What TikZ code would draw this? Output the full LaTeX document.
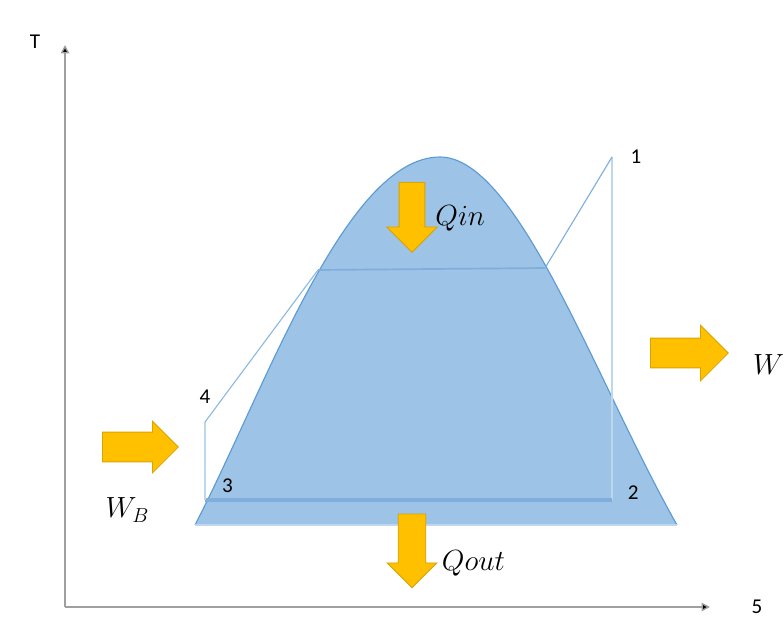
\documentclass[tikz,border=0pt]{standalone}
\usepackage{fontspec}
\newfontfamily\labelfont{Carlito}
\usetikzlibrary{shapes.arrows, arrows.meta, positioning}
\definecolor{domeBlue}{HTML}{9DC3E6}
\definecolor{domeEdge}{HTML}{5B9BD5}
\definecolor{cycleLine}{HTML}{7FAEDD}
\definecolor{paleLine}{HTML}{BDD7EE}
\definecolor{heatGold}{HTML}{FFC000}
\definecolor{heatEdge}{HTML}{D9A300}

\begin{document}
\begin{tikzpicture}[x=0.025cm, y=-0.025cm,
  axis/.style={draw=gray!75, line width=1pt, -{Triangle[length=6pt, width=6pt, fill=black]}},
  ptlabel/.style={font=\labelfont\fontsize{15}{15}\selectfont, inner sep=0pt},
  qlabel/.style={font=\fontsize{21}{21}\selectfont, inner sep=0pt},
  blockarrow/.style={single arrow, fill=heatGold, draw=heatEdge, line width=0.6pt,
    single arrow tip angle=90}]
  \useasboundingbox (0,0) rectangle (784,627);
  \coordinate (origin) at (65,607);
  \coordinate (ttip) at (65,45);
  \coordinate (stip) at (710,607);
  \draw[axis] (origin) -- (ttip);
  \draw[axis] (origin) -- (stip);
  \node[ptlabel] (tlab) at (35,42) {T};
  \node[ptlabel] (slab) at (757,607) {5};
  \fill[domeBlue] (195,525) .. controls (265,390) and (345,157) .. (440,157)
    .. controls (518,157) and (596,382) .. (677,525) -- cycle;
  \draw[domeEdge, line width=0.8pt] (195,525) .. controls (265,390) and (345,157) .. (440,157)
    .. controls (518,157) and (596,382) .. (677,525);
  \draw[paleLine, line width=1pt] (195,525) -- (677,525);
  \coordinate (p1) at (612,157);
  \coordinate (p2) at (612,500);
  \coordinate (p3) at (205,500);
  \coordinate (p4) at (205,422);
  \coordinate (satl) at (318,270);
  \coordinate (satr) at (545,268);
  \draw[cycleLine, line width=1.2pt] (satl) -- (satr);
  \draw[paleLine, line width=2pt] (p1) -- (p2);
  \draw[cycleLine, line width=3pt] (p2) -- (p3);
  \draw[paleLine, line width=1.2pt] (p3) -- (p4);
  \draw[domeEdge!70, line width=0.8pt] (p4) -- (satl);
  \draw[domeEdge!80, line width=0.8pt] (satr) -- (p1);
  \node[ptlabel, right=13pt of p1] (l1) {1};
  \node[ptlabel, right=11pt of p2, yshift=5pt] (l2) {2};
  \node[ptlabel, right=12pt of p3, yshift=10pt] (l3) {3};
  \node[ptlabel, above=13pt of p4] (l4) {4};
  \node[blockarrow, shape border rotate=270, inner sep=8.85pt,
    single arrow head extend=8.9pt, minimum height=49.6pt] (qinarrow) at (412,211) {};
  \node[blockarrow, shape border rotate=270, inner sep=9.5pt,
    single arrow head extend=7.8pt, minimum height=52.4pt] (qoutarrow) at (412,544) {};
  \node[blockarrow, inner sep=10.3pt, single arrow head extend=9.2pt,
    minimum height=55.3pt] (warrow) at (682,353) {};
  \node[blockarrow, inner sep=10.3pt, single arrow head extend=7.8pt,
    minimum height=53.9pt] (wbarrow) at (133,447) {};
  \node[qlabel, right=7pt of qinarrow, yshift=-5pt] (qin) {$Qin$};
  \node[qlabel, right=11pt of qoutarrow, yshift=-14pt] (qout) {$Qout$};
  \node[qlabel, right=17pt of warrow, yshift=-8pt] (wlab) {$W$};
  \node[qlabel, below=25pt of wbarrow, xshift=-4pt] (wblab) {$W_B$};
\end{tikzpicture}
\end{document}
